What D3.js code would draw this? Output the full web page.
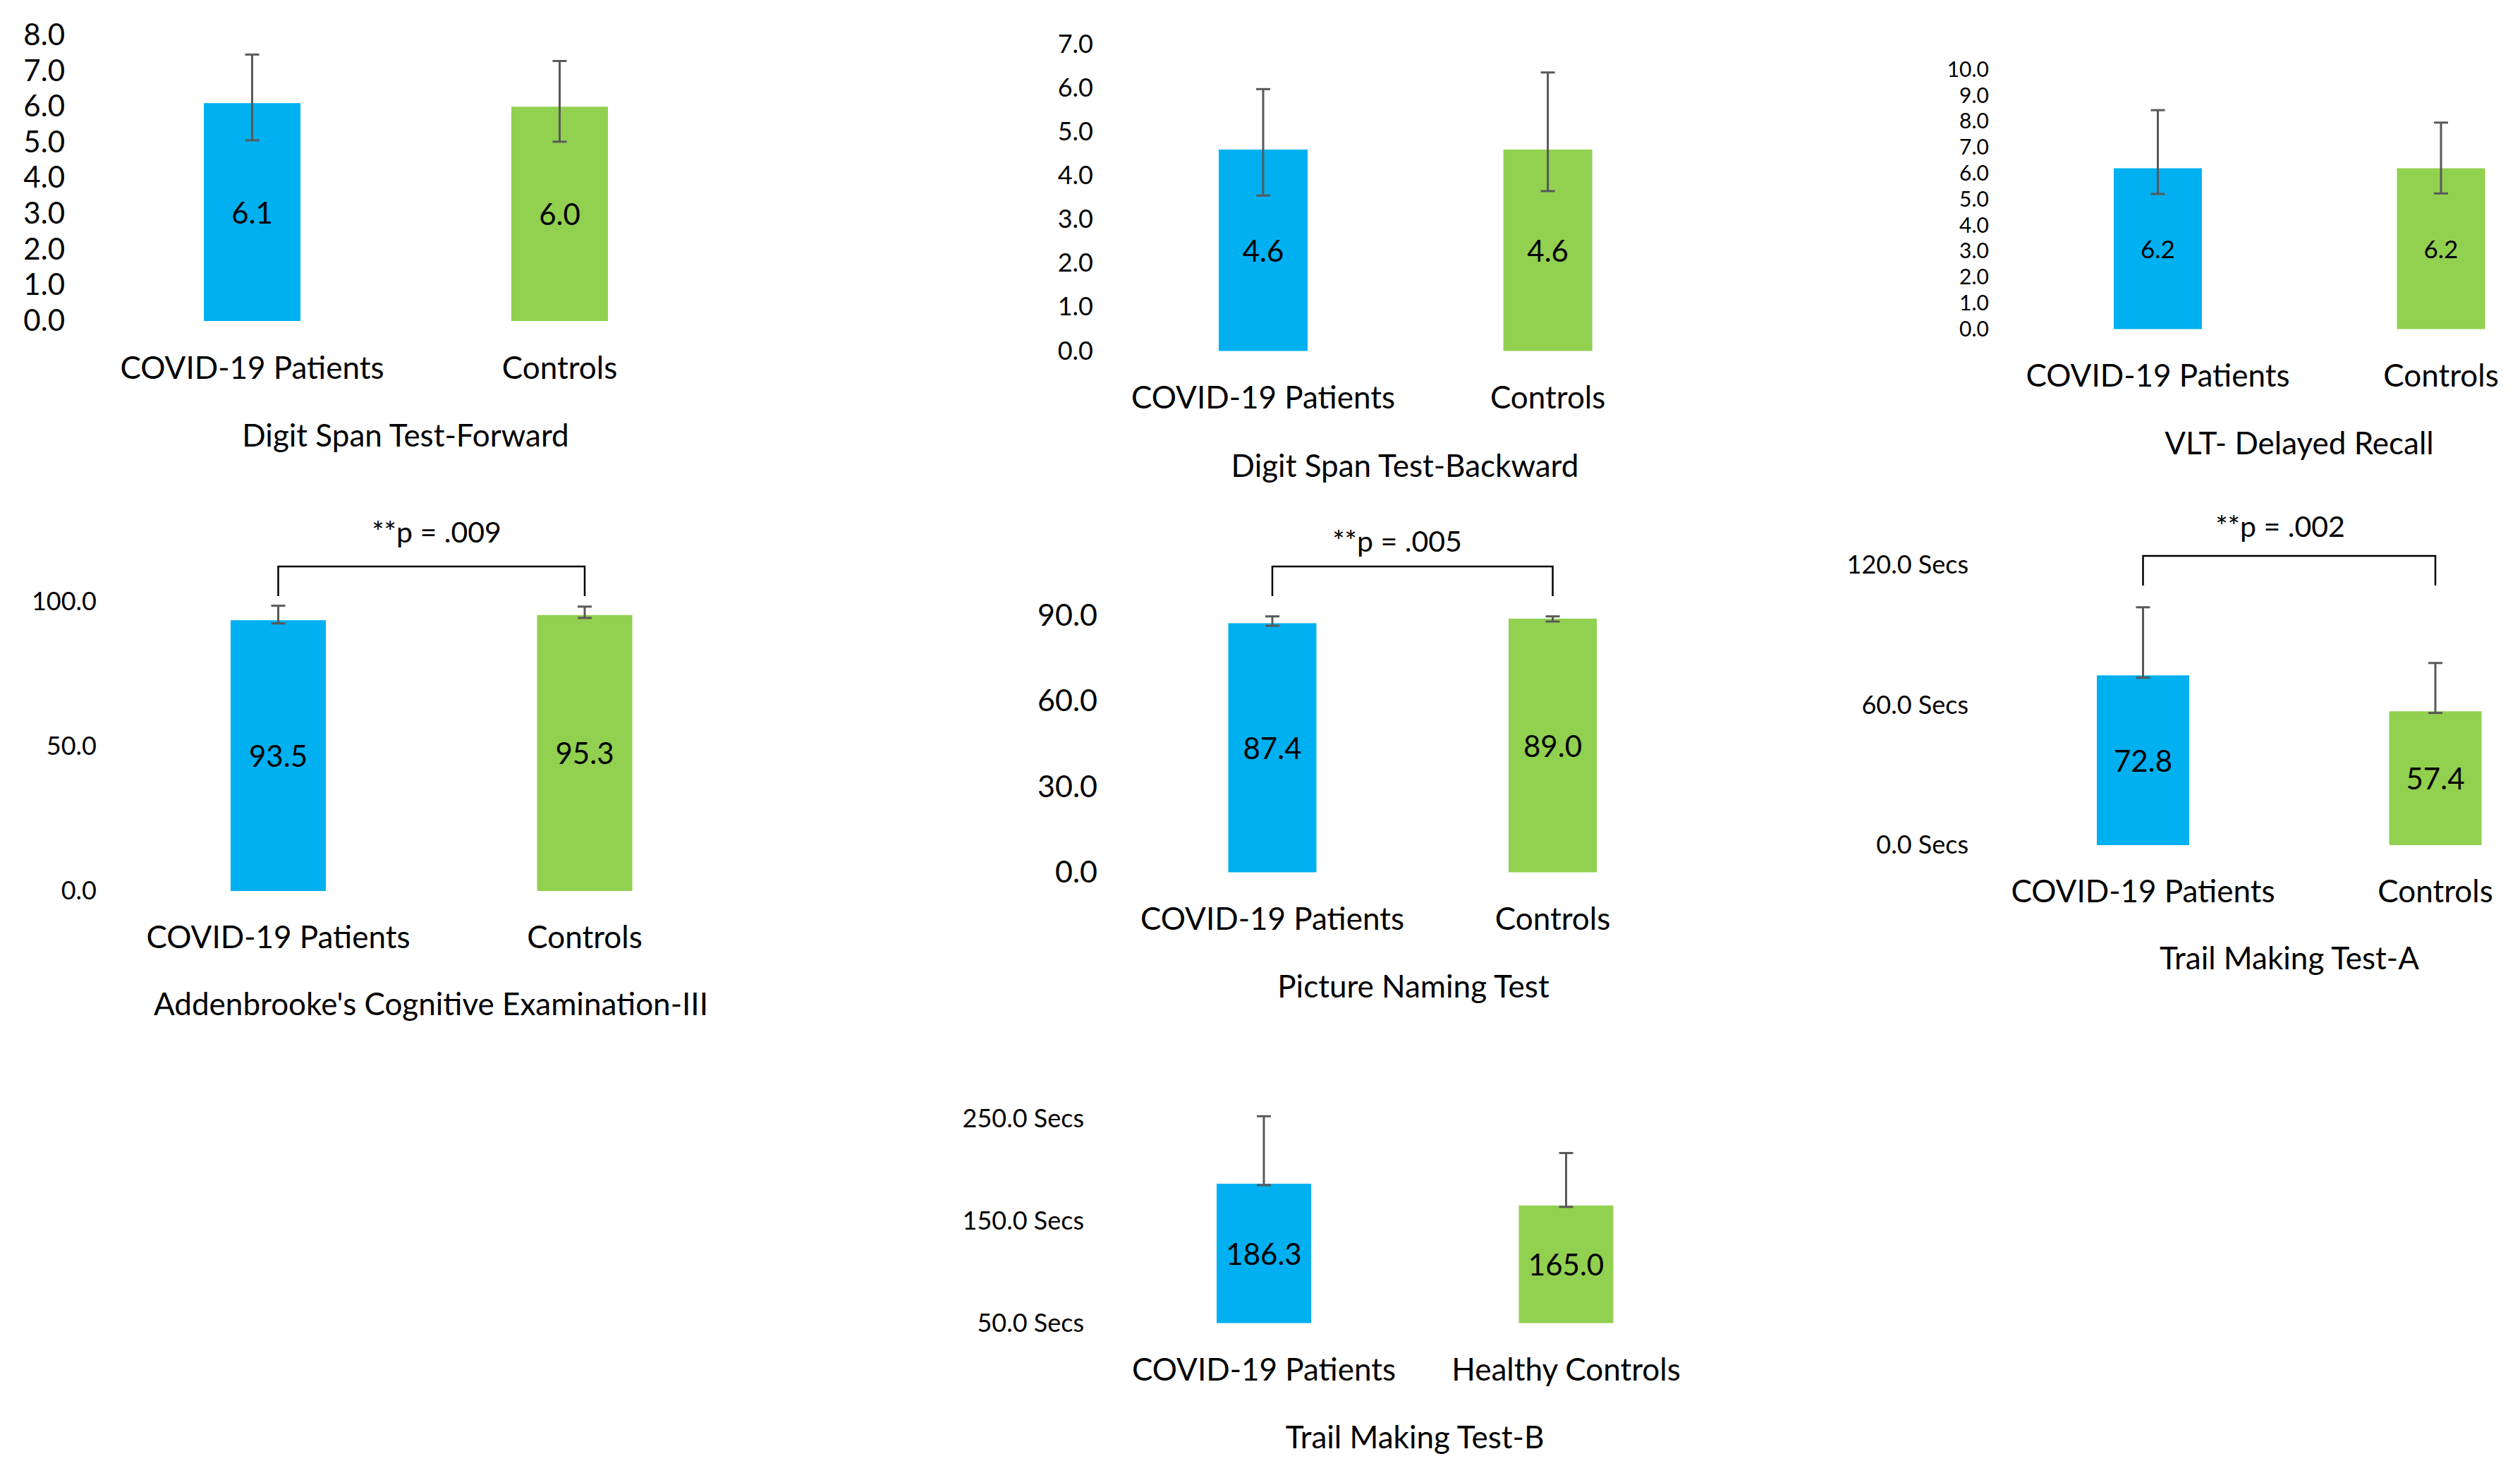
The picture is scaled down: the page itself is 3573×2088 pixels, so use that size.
<!DOCTYPE html>
<html>
<head>
<meta charset="utf-8">
<script src="https://cdn.jsdelivr.net/npm/d3@7"></script>
<style>
  body { margin: 0; background: #fff; }
  text { font-family: "Lato", sans-serif; fill: #000; }
</style>
</head>
<body>
<div id="svgcontainer"></div>
<script>
// data
const testNames = ["Digit Span Test-Forward", "Digit Span Test-Backward", "VLT- Delayed Recall",
  "Addenbrooke's Cognitive Examination-III", "Picture Naming Test", "Trail Making Test-A", "Trail Making Test-B"];
const groupNames = [
  ["COVID-19 Patients", "Controls"], ["COVID-19 Patients", "Controls"], ["COVID-19 Patients", "Controls"],
  ["COVID-19 Patients", "Controls"], ["COVID-19 Patients", "Controls"], ["COVID-19 Patients", "Controls"],
  ["COVID-19 Patients", "Healthy Controls"]];
const meanValues = [[6.1, 6.0], [4.6, 4.6], [6.2, 6.2], [93.5, 95.3], [87.4, 89.0], [72.8, 57.4], [186.3, 165.0]];
const errUpper = [[7.46, 7.28], [5.98, 6.36], [8.44, 7.96], [98.5, 98.2], [89.8, 89.8], [102.0, 78.1], [252.3, 216.3]];
const errLower = [[5.06, 5.02], [3.55, 3.65], [5.21, 5.23], [92.4, 94.3], [86.5, 88.0], [71.8, 56.7], [184.9, 163.6]];
const tickValues = [[0, 1, 2, 3, 4, 5, 6, 7, 8], [0, 1, 2, 3, 4, 5, 6, 7], [0, 1, 2, 3, 4, 5, 6, 7, 8, 9, 10],
  [0, 50, 100], [0, 30, 60, 90], [0, 60, 120], [50, 150, 250]];
const tickSuffix = ["", "", "", "", "", " Secs", " Secs"];
const pLabels = [null, null, null, "**p = .009", "**p = .005", "**p = .002", null];

const colors = ["#00B0F0", "#92D050"];

// panel placement (pixels), font sizes already in Lato px
const layout = [
  {cx: [357.5, 793.5], bw: 137, yr: [455, 50], tickX: 92, tickFs: 42, valFs: 42, catY: 521, titleX: 575, titleY: 617},
  {cx: [1791, 2194.6], bw: 126, yr: [497.5, 63], tickX: 1550, tickFs: 36, valFs: 42, catY: 563, titleX: 1992, titleY: 660},
  {cx: [3059.5, 3461], bw: 125, yr: [466.5, 98.8], tickX: 2820, tickFs: 30, valFs: 35, catY: 532, titleX: 3260, titleY: 628},
  {cx: [394.5, 829], bw: 135, yr: [1263, 852.5], tickX: 137, tickFs: 36, valFs: 42, catY: 1328, titleX: 611, titleY: 1423,
    br: {y: 803, y2: 845}, pX: 619, pY: 754},
  {cx: [1804, 2201.5], bw: 125, yr: [1236.5, 872.9], tickX: 1556, tickFs: 43, valFs: 42, catY: 1302, titleX: 2004, titleY: 1398,
    br: {y: 803, y2: 845}, pX: 1981, pY: 767},
  {cx: [3038.5, 3453], bw: 131, yr: [1198, 801.3], tickX: 2791, tickFs: 36, valFs: 42, catY: 1263, titleX: 3246, titleY: 1358,
    br: {y: 788, y2: 830}, pX: 3233, pY: 746},
  {cx: [1792, 2220.5], bw: 134, yr: [1875.5, 1585.6], tickX: 1537, tickFs: 36, valFs: 42, catY: 1941, titleX: 2006, titleY: 2037}
];

const labelFs = 44;
const pFs = 41;

var svg = d3.select("#svgcontainer")
    .append("svg")
    .attr("width", 3573)
    .attr("height", 2088)

testNames.forEach((name, i) => {
  let L = layout[i];
  let g = svg.append('g');
  let ticks = tickValues[i];

  let y = d3.scaleLinear().domain([ticks[0], ticks[ticks.length - 1]]).range(L.yr);
  let x = d3.scalePoint().domain(groupNames[i]).range(L.cx);

  let fmt = d3.format(".1f");
  let axis = d3.axisLeft(y).tickValues(ticks).tickSize(0).tickPadding(0)
    .tickFormat(d => fmt(d) + tickSuffix[i]);
  let ax = g.append('g').attr('transform', `translate(${L.tickX},0)`).call(axis);
  ax.select('.domain').remove();
  ax.selectAll('text').attr('font-size', L.tickFs)
    .style('font-family', '"Lato", sans-serif').attr('fill', '#000');

  let rows = groupNames[i].map((c, j) => ({c: c, v: meanValues[i][j], lo: errLower[i][j], hi: errUpper[i][j], col: colors[j]}));

  // bars
  g.selectAll('rect.bar').data(rows).join('rect')
    .attr('class', 'bar')
    .attr('x', d => x(d.c) - L.bw / 2)
    .attr('width', L.bw)
    .attr('y', d => y(d.v))
    .attr('height', d => y(ticks[0]) - y(d.v))
    .attr('fill', d => d.col);

  // error bars
  let eb = g.selectAll('g.err').data(rows).join('g').attr('class', 'err')
    .attr('stroke', '#595959').attr('stroke-width', 3);
  eb.append('line').attr('x1', d => x(d.c)).attr('x2', d => x(d.c))
    .attr('y1', d => y(d.lo)).attr('y2', d => y(d.hi));
  eb.append('line').attr('x1', d => x(d.c) - 10).attr('x2', d => x(d.c) + 10)
    .attr('y1', d => y(d.hi)).attr('y2', d => y(d.hi));
  eb.append('line').attr('x1', d => x(d.c) - 10).attr('x2', d => x(d.c) + 10)
    .attr('y1', d => y(d.lo)).attr('y2', d => y(d.lo));

  // value labels
  g.selectAll('text.val').data(rows).join('text')
    .attr('class', 'val')
    .attr('x', d => x(d.c))
    .attr('y', d => (y(d.v) + y(ticks[0])) / 2)
    .attr('dy', '0.38em')
    .attr('text-anchor', 'middle')
    .attr('font-size', L.valFs)
    .text(d => fmt(d.v));

  // category labels
  g.selectAll('text.cat').data(rows).join('text')
    .attr('class', 'cat')
    .attr('x', d => x(d.c))
    .attr('y', L.catY)
    .attr('dy', '0.36em')
    .attr('text-anchor', 'middle')
    .attr('font-size', labelFs)
    .text(d => d.c);

  // chart title
  g.append('text')
    .attr('x', L.titleX).attr('y', L.titleY).attr('dy', '0.36em')
    .attr('text-anchor', 'middle')
    .attr('font-size', labelFs)
    .text(name);

  // significance bracket
  if (pLabels[i]) {
    let xs = groupNames[i].map(c => x(c));
    g.append('path')
      .attr('d', `M${xs[0]},${L.br.y2}V${L.br.y}H${xs[1]}V${L.br.y2}`)
      .attr('fill', 'none').attr('stroke', '#000').attr('stroke-width', 2.5);
    g.append('text')
      .attr('x', L.pX).attr('y', L.pY).attr('dy', '0.36em')
      .attr('text-anchor', 'middle')
      .attr('font-size', pFs)
      .text(pLabels[i]);
  }
});
</script>
</body>
</html>
